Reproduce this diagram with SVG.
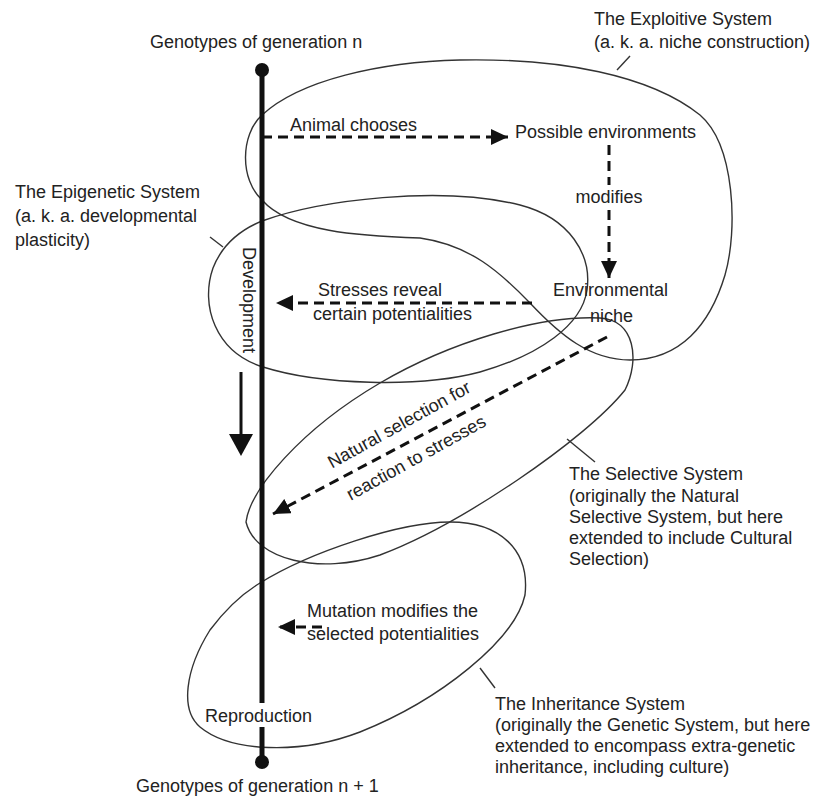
<svg xmlns="http://www.w3.org/2000/svg" width="825" height="798" viewBox="0 0 825 798">
<style>
text{font-family:"Liberation Sans",Arial,sans-serif;font-size:18px;fill:#222}
.blob{fill:none;stroke:#333;stroke-width:1.4}
.tick{stroke:#333;stroke-width:1.4;fill:none}
.dash{stroke:#111;stroke-width:3;stroke-dasharray:10 6;fill:none}
</style>
<defs>
<marker id="ah" markerUnits="userSpaceOnUse" markerWidth="18" markerHeight="16" refX="17" refY="8" orient="auto">
<path d="M0,0 L17,8 L0,16 z" fill="#111"/>
</marker>
</defs>
<rect width="825" height="798" fill="#fff"/>

<g id="exploitive-system">
<path class="blob" d="M262,115 C300,80 380,62 460,60 C560,58 650,75 700,115 C735,145 738,230 725,275 C710,325 680,360 630,360 C590,360 560,335 530,303 C500,272 470,245 420,238 C360,236 290,232 262,200 C240,180 240,135 262,115 Z"/>
<path class="tick" d="M617,70 L630,56"/>
<text x="594" y="25">The Exploitive System</text>
<text x="594" y="48">(a. k. a. niche construction)</text>
</g>

<g id="epigenetic-system">
<path class="blob" d="M262,221 C320,200 440,185 520,205 C570,218 592,255 587,290 C582,325 540,355 480,372 C420,388 320,385 263,367 C215,352 200,305 213,268 C222,245 240,230 262,221 Z"/>
<path class="tick" d="M210,237 L223,247"/>
<text x="15" y="198">The Epigenetic System</text>
<text x="15" y="222">(a. k. a. developmental</text>
<text x="15" y="246">plasticity)</text>
</g>

<g id="selective-system">
<path class="blob" d="M246,522 C250,490 300,430 380,383 C450,342 540,315 600,318 C635,320 640,360 625,390 C585,440 460,525 380,555 C320,575 255,560 246,522 Z"/>
<path class="tick" d="M567,439 L595,462"/>
<text x="569" y="480">The Selective System</text>
<text x="569" y="502">(originally the Natural</text>
<text x="569" y="523">Selective System, but here</text>
<text x="569" y="544">extended to include Cultural</text>
<text x="569" y="565">Selection)</text>
</g>

<g id="inheritance-system">
<path class="blob" d="M260,583 C310,552 400,522 450,522 C500,522 530,550 525,595 C515,640 440,700 360,732 C300,755 230,752 200,727 C180,710 185,670 210,630 C225,610 240,595 260,583 Z"/>
<path class="tick" d="M480,668 L495,688"/>
<text x="495" y="710">The Inheritance System</text>
<text x="495" y="731">(originally the Genetic System, but here</text>
<text x="495" y="752">extended to encompass extra-genetic</text>
<text x="495" y="773">inheritance, including culture)</text>
</g>

<g id="genotype-line">
<line x1="262" y1="70" x2="262" y2="703" stroke="#111" stroke-width="5"/>
<line x1="262" y1="727" x2="262" y2="762" stroke="#111" stroke-width="5"/>
<circle cx="262" cy="70" r="7" fill="#111"/>
<circle cx="262" cy="762" r="7" fill="#111"/>
<text x="150" y="48">Genotypes of generation n</text>
<text x="136" y="792">Genotypes of generation n + 1</text>
<text x="205" y="722">Reproduction</text>
<text transform="translate(243,247) rotate(90)">Development</text>
</g>

<g id="possible-environments"><text x="515" y="138">Possible environments</text></g>
<g id="environmental-niche">
<text x="553" y="296">Environmental</text>
<text x="590" y="322">niche</text>
</g>

<g id="connectors">
<line class="dash" x1="262" y1="137" x2="508" y2="137" marker-end="url(#ah)"/>
<text x="290" y="131">Animal chooses</text>
<line class="dash" x1="609" y1="145" x2="609" y2="185"/>
<line class="dash" x1="609" y1="210" x2="609" y2="278" marker-end="url(#ah)"/>
<text x="609" y="203" text-anchor="middle">modifies</text>
<line class="dash" x1="532" y1="303" x2="276" y2="303" marker-end="url(#ah)"/>
<text x="318" y="296">Stresses reveal</text>
<text x="313" y="320">certain potentialities</text>
<line class="dash" x1="607" y1="337" x2="273" y2="514" marker-end="url(#ah)"/>
<text transform="translate(402,430) rotate(-29)" text-anchor="middle">Natural selection for</text>
<text transform="translate(419,463) rotate(-29)" text-anchor="middle">reaction to stresses</text>
<line class="dash" x1="322" y1="627" x2="278" y2="627" marker-end="url(#ah)"/>
<text x="307" y="617">Mutation modifies the</text>
<text x="307" y="640">selected potentialities</text>
<line x1="241" y1="372" x2="241" y2="440" stroke="#111" stroke-width="3"/>
<path d="M229,434 L253,434 L241,456 Z" fill="#111"/>
</g>
</svg>
